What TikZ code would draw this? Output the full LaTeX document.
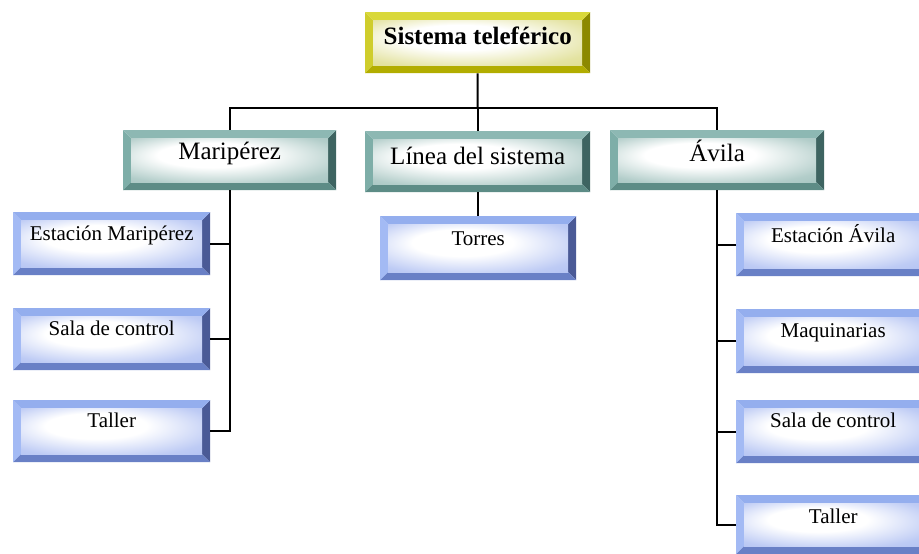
\documentclass[tikz,border=0pt]{standalone}
\usepackage{fontspec}
\setmainfont{Liberation Serif}

% bevel palettes: top, left, right, bottom, face edge
\definecolor{bTop}{HTML}{94AEEE}
\definecolor{bLeft}{HTML}{A3BAF4}
\definecolor{bRight}{HTML}{4A5A96}
\definecolor{bBot}{HTML}{6980C6}
\definecolor{bFace}{HTML}{A2B5F0}
\definecolor{tTop}{HTML}{8DB8B3}
\definecolor{tLeft}{HTML}{7EAEA8}
\definecolor{tRight}{HTML}{3E6461}
\definecolor{tBot}{HTML}{5D8C86}
\definecolor{tFace}{HTML}{92B8B3}
\definecolor{yTop}{HTML}{D9D83A}
\definecolor{yLeft}{HTML}{CFCD2C}
\definecolor{yRight}{HTML}{8C8900}
\definecolor{yBot}{HTML}{B2AD00}
\definecolor{yFace}{HTML}{D8D77A}
\colorlet{bvedge}{bFace}

\pgfdeclareradialshading[bvedge]{bvsoft}{\pgfpoint{-6bp}{8bp}}{%
  color(0bp)=(white); color(14bp)=(white); color(32bp)=(bvedge!70!white); color(50bp)=(bvedge)}

\newlength\bvl
\setlength\bvl{8pt}
% bevelled face drawn inside the node outline
\newcommand\bevelfill[5]{%
  \fill[#2] (path picture bounding box.north west)
    -- ([xshift=\bvl,yshift=-\bvl]path picture bounding box.north west)
    -- ([xshift=\bvl,yshift=\bvl]path picture bounding box.south west)
    -- (path picture bounding box.south west) -- cycle;
  \fill[#3] (path picture bounding box.north east)
    -- ([xshift=-\bvl,yshift=-\bvl]path picture bounding box.north east)
    -- ([xshift=-\bvl,yshift=\bvl]path picture bounding box.south east)
    -- (path picture bounding box.south east) -- cycle;
  \fill[#1] (path picture bounding box.north west)
    -- (path picture bounding box.north east)
    -- ([xshift=-\bvl,yshift=-\bvl]path picture bounding box.north east)
    -- ([xshift=\bvl,yshift=-\bvl]path picture bounding box.north west) -- cycle;
  \fill[#4] (path picture bounding box.south west)
    -- (path picture bounding box.south east)
    -- ([xshift=-\bvl,yshift=\bvl]path picture bounding box.south east)
    -- ([xshift=\bvl,yshift=\bvl]path picture bounding box.south west) -- cycle;
  \colorlet{bvedge}{#5}%
  \shade[shading=bvsoft]
    ([xshift=\bvl,yshift=-\bvl]path picture bounding box.north west)
    rectangle ([xshift=-\bvl,yshift=\bvl]path picture bounding box.south east);
}

\tikzset{
  bvbox/.style={inner sep=0pt, anchor=north west},
  blueb/.style={bvbox, font=\fontsize{21}{24}\selectfont,
    path picture={\bevelfill{bTop}{bLeft}{bRight}{bBot}{bFace}}},
  tealb/.style={bvbox, font=\fontsize{25}{28}\selectfont,
    path picture={\bevelfill{tTop}{tLeft}{tRight}{tBot}{tFace}}},
  yelb/.style={bvbox, font=\bfseries\fontsize{25}{28}\selectfont,
    path picture={\bevelfill{yTop}{yLeft}{yRight}{yBot}{yFace}}},
  link/.style={draw=black, line width=2pt},
}

\begin{document}
\begin{tikzpicture}[x=1pt,y=-1pt]
\clip (0,0) rectangle (919,554);

% root
\node[yelb, minimum width=225pt, text height=32pt, text depth=29pt] (top) at (365,12) {Sistema teleférico};

% second level
\node[tealb, minimum width=213pt, text height=29pt, text depth=31pt] (mar) at (123,130) {Maripérez};
\node[tealb, minimum width=225pt, text height=33pt, text depth=28pt] (lin) at (365,131) {Línea del sistema};
\node[tealb, minimum width=214pt, text height=31pt, text depth=29pt] (avi) at (610,130) {Ávila};

% Maripérez branch
\node[blueb, minimum width=197pt, text height=28pt, text depth=35pt] (em) at (13,212) {Estación Maripérez};
\node[blueb, minimum width=197pt, text height=27pt, text depth=35pt] (sc) at (13,308) {Sala de control};
\node[blueb, minimum width=197pt, text height=27pt, text depth=35pt] (tl) at (13,400) {Taller};

% line branch
\node[blueb, minimum width=196pt, text height=29pt, text depth=35pt] (tor) at (380,216) {Torres};

% Ávila branch
\node[blueb, minimum width=194pt, text height=29pt, text depth=34pt] (ea) at (736,213) {Estación Ávila};
\node[blueb, minimum width=194pt, text height=28pt, text depth=36pt] (maq) at (736,309) {Maquinarias};
\node[blueb, minimum width=194pt, text height=27pt, text depth=36pt] (sca) at (736,400) {Sala de control};
\node[blueb, minimum width=194pt, text height=28pt, text depth=31pt] (tar) at (736,495) {Taller};

% connectors
\coordinate (bus) at (477.5,108);
\draw[link] (top.south) -- (bus);
\draw[link] (mar.north) |- (bus) -| (avi.north);
\draw[link] (lin.north) -- (lin.north |- bus);
\draw[link] (lin.south) -- (lin.south |- tor.north);

\draw[link] (mar.south) -- (mar.south |- tl.east) -- (tl.east);
\draw[link] (em.east) -- (em.east -| mar.south);
\draw[link] (sc.east) -- (sc.east -| mar.south);

\draw[link] (avi.south) -- (avi.south |- tar.west) -- (tar.west);
\draw[link] (ea.west) -- (ea.west -| avi.south);
\draw[link] (maq.west) -- (maq.west -| avi.south);
\draw[link] (sca.west) -- (sca.west -| avi.south);
\end{tikzpicture}
\end{document}
